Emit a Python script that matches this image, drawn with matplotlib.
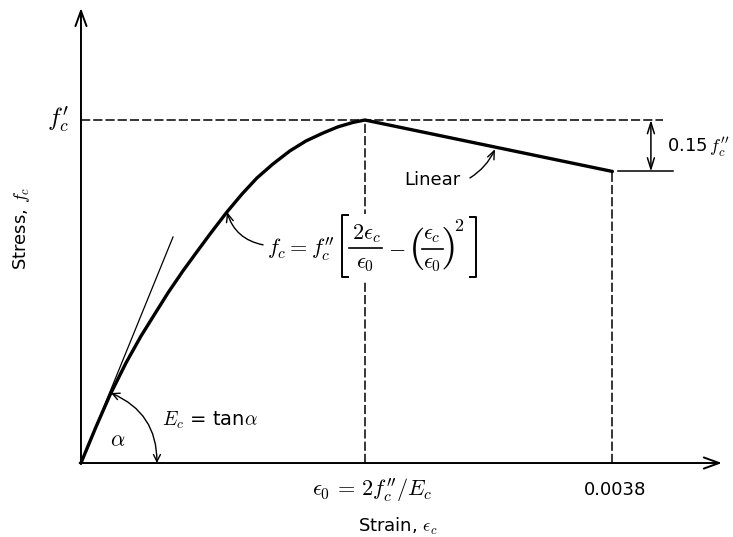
import matplotlib
matplotlib.use("Agg")
import matplotlib.pyplot as plt
from matplotlib.patches import FancyArrowPatch, Rectangle
from matplotlib.lines import Line2D

plt.rcParams['font.family'] = ['DejaVu Sans']
plt.rcParams['mathtext.fontset'] = 'cm'

# ---- data (strain, stress / f'c) ----
strain_rise = [0.0, 0.000107, 0.000207, 0.000322, 0.000429, 0.000536, 0.000622,
               0.000729, 0.000822, 0.000929, 0.001044, 0.001151, 0.001258,
               0.001373, 0.001494, 0.001609, 0.001730, 0.001837, 0.001945, 0.002030]
stress_rise = [0.0, 0.105, 0.198, 0.292, 0.370, 0.440, 0.496, 0.560, 0.612,
               0.671, 0.732, 0.784, 0.831, 0.872, 0.910, 0.939, 0.962, 0.980,
               0.993, 1.0]
strain_lin = [0.002030, 0.0038]
stress_lin = [1.0, 0.85]
tangent_x = [0.0, 0.000658]
tangent_y = [0.0, 0.659]
eps0 = 0.002030
eps_u = 0.0038
fc_peak = 1.0
fc_end = 0.85
xtick_vals = [eps0, eps_u]
xtick_labels = [r'$\epsilon_0\,=\,2f_c^{\prime\prime}/E_c$', '0.0038']

W, H = 733, 537
fig = plt.figure(figsize=(W / 100, H / 100), dpi=100)
ax = fig.add_axes([0, 0, 1, 1])
ax.set_xlim(-0.000579, 0.004662)
ax.set_ylim(-0.2157, 1.3499)
ax.axis('off')

k = 'black'


def P(x, y):
    """figure-pixel position (from top-left) to figure fraction"""
    return (x / W, 1 - y / H)


def ftext(x, y, s, **kw):
    fig.text(*P(x, y), s, ha='center', va='center', **kw)


def fline(xs, ys, lw=1.2):
    fig.add_artist(Line2D([x / W for x in xs], [1 - y / H for y in ys],
                          transform=fig.transFigure, color=k, lw=lw, zorder=3))


# axes with open arrowheads
ax.annotate('', xy=(0, 1.3265), xytext=(0, -0.003),
            arrowprops=dict(arrowstyle='->,head_length=1.1,head_width=0.4', lw=1.4, color=k,
                            shrinkA=0, shrinkB=0))
ax.annotate('', xy=(0.004583, 0), xytext=(-0.00001, 0),
            arrowprops=dict(arrowstyle='->,head_length=1.1,head_width=0.4', lw=1.4, color=k,
                            shrinkA=0, shrinkB=0))

# dashed guides
ax.plot([0, 0.004161], [fc_peak, fc_peak], ls=(0, (6, 2)), lw=1.1, color=k)
ax.plot([eps0, eps0], [0, fc_peak], ls=(0, (6, 2)), lw=1.1, color=k)
ax.plot([eps_u, eps_u], [0, fc_end], ls=(0, (6, 2)), lw=1.1, color=k)

# 0.15 f'c bracket
ax.plot([0.003839, 0.004232], [fc_end, fc_end], lw=1.1, color=k)
ax.annotate('', xy=(0.004075, fc_peak), xytext=(0.004075, fc_end),
            arrowprops=dict(arrowstyle='<->,head_length=0.8,head_width=0.25', lw=1.1, color=k,
                            shrinkA=0, shrinkB=0))
ax.text(0.00419, 0.921, r"0.15$\,f_c^{\prime\prime}$", fontsize=13, va='center', ha='left')

# curve
ax.plot(tangent_x, tangent_y, lw=0.9, color=k)
ax.plot(strain_rise + strain_lin[1:], stress_rise + stress_lin[1:], lw=2.4, color=k,
        solid_joinstyle='round', solid_capstyle='round')

# Ec arc
arc = FancyArrowPatch((0.000543, 0.0), (0.000215, 0.204),
                      arrowstyle='<->,head_length=5,head_width=2.5',
                      connectionstyle='arc3,rad=0.33', lw=1.0, color=k,
                      shrinkA=0, shrinkB=0)
ax.add_patch(arc)
ax.text(0.000265, 0.067, r'$\alpha$', fontsize=16, ha='center', va='center')
ax.text(0.000579, 0.125, r'$E_c$ = tan$\alpha$', fontsize=14, ha='left', va='center')

# formula arrow
ax.annotate('', xy=(0.001044, 0.732), xytext=(0.001302, 0.636),
            arrowprops=dict(arrowstyle='->,head_length=0.6,head_width=0.25', lw=1.0, color=k,
                            connectionstyle='arc3,rad=-0.3', shrinkA=0, shrinkB=0))

# white gap behind the formula (dashed line is interrupted there)
fig.add_artist(Rectangle(P(340, 280), 140 / W, 66 / H, transform=fig.transFigure,
                         facecolor='white', edgecolor='none', zorder=1))

# formula  f_c = f''_c [ 2e_c/e_0 - (e_c/e_0)^2 ]  composed piecewise
fs = 16
fig.text(*P(267, 249), r'$f_c = f_c^{\prime\prime}$', fontsize=16, ha='left', va='center')
fline([348, 342, 342, 348], [215, 215, 277, 277], lw=1.4)          # [
ftext(366, 234, r'$2\epsilon_c$', fontsize=fs)
fline([349, 382], [248, 248])
ftext(365, 264, r'$\epsilon_0$', fontsize=fs)
ftext(397, 248, r'$-$', fontsize=fs)
ftext(416, 248, r'$($', fontsize=31)
ftext(432, 235, r'$\epsilon_c$', fontsize=fs)
fline([422, 443], [249, 249])
ftext(432, 264, r'$\epsilon_0$', fontsize=fs)
ftext(447, 248, r'$)$', fontsize=31)
ftext(459, 226, r'$2$', fontsize=13)
fline([470, 476, 476, 470], [217, 217, 277, 277], lw=1.4)          # ]

# Linear label
ax.annotate('', xy=(0.00296, 0.915), xytext=(0.002781, 0.831),
            arrowprops=dict(arrowstyle='->,head_length=0.6,head_width=0.25', lw=1.0, color=k,
                            connectionstyle='arc3,rad=0.15', shrinkA=0, shrinkB=0))
ax.text(0.00251, 0.825, 'Linear', fontsize=13, ha='center', va='center')

# tick-like labels
ax.text(-0.000164, fc_peak, r"$f_c^{\prime}$", fontsize=18, ha='center', va='center')
ax.text(xtick_vals[0] + 0.00005, -0.079, xtick_labels[0], fontsize=16, ha='center', va='center')
ax.text(xtick_vals[1] + 0.00002, -0.079, xtick_labels[1], fontsize=13, ha='center', va='center')

# axis titles
ax.text(0.002266, -0.186, r'Strain, $\epsilon_c$', fontsize=13, ha='center', va='center')
ax.text(-0.000422, 0.685, r'Stress, $f_c$', fontsize=13, ha='center', va='center', rotation=90)

fig.savefig('out.png', dpi=100)
